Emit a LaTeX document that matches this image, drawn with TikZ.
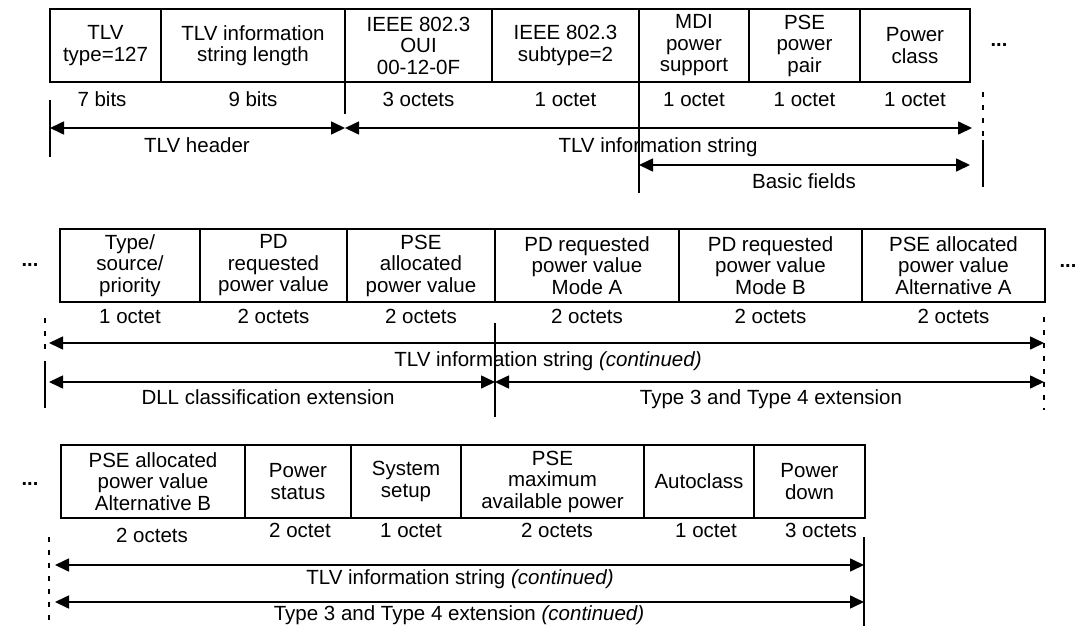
\documentclass[tikz,border=0pt]{standalone}
\usepackage{fontspec}
\setmainfont{Liberation Sans}
\usetikzlibrary{arrows.meta}
\begin{document}
\begin{tikzpicture}[x=1pt,y=-1pt,
  every node/.style={font=\fontsize{20.5}{21.5}\selectfont},
  cell/.style={draw,line width=1.6pt,rectangle,minimum height=73pt,inner sep=0pt,align=center,anchor=center},
  lbl/.style={inner sep=0pt,text height=14pt,text depth=4pt,anchor=center},
  dots/.style={inner sep=0pt,font=\fontsize{20}{21}\selectfont\bfseries},
  dimarrow/.style={line width=1.6pt,{Triangle[length=14pt,width=13pt]}-{Triangle[length=14pt,width=13pt]}},
  guide/.style={line width=1.5pt},
  dguide/.style={line width=1.5pt,dash pattern=on 5pt off 8pt}
]
\fill[white] (0,0) rectangle (1078,626);
\useasboundingbox (0,0) rectangle (1078,626);

% ---------- Row 1 ----------
\node[cell,minimum width=111pt] (c1) at (105.5,45.5) {TLV\\type=127};
\node[cell,minimum width=184pt] (c2) at (253,45.5) {TLV information\\string length};
\node[cell,minimum width=147pt] (c3) at (418.5,45.5) {IEEE 802.3\\OUI\\00-12-0F};
\node[cell,minimum width=147pt] (c4) at (565.5,45.5) {IEEE 802.3\\subtype=2};
\node[cell,minimum width=110pt] (c5) at (694,45.5) {MDI\\power\\support};
\node[cell,minimum width=111pt] (c6) at (804.5,45.5) {PSE\\power\\pair};
\node[cell,minimum width=110pt] (c7) at (915,45.5) {Power\\class};
\node[dots] (r1dots) at (999,45) {...};

\node[lbl] (s1) at (102,101) {7 bits};
\node[lbl] (s2) at (253,101) {9 bits};
\node[lbl] (s3) at (418.5,101) {3 octets};
\node[lbl] (s4) at (565.5,101) {1 octet};
\node[lbl] (s5) at (694,101) {1 octet};
\node[lbl] (s6) at (804.5,101) {1 octet};
\node[lbl] (s7) at (915,101) {1 octet};

\coordinate (v1a) at (50,100);  \coordinate (v1b) at (50,157);
\coordinate (v2a) at (345,62);  \coordinate (v2b) at (345,114);
\coordinate (v3a) at (639,82);  \coordinate (v3b) at (639,193);
\coordinate (v4a) at (983,92);  \coordinate (v4b) at (983,137);
\coordinate (v4c) at (983,140); \coordinate (v4d) at (983,187);
\draw[guide] (v1a) -- (v1b);
\draw[guide] (v2a) -- (v2b);
\draw[guide] (v3a) -- (v3b);
\draw[dguide] (v4a) -- (v4b);
\draw[guide] (v4c) -- (v4d);

\coordinate (h1a) at (50,128);  \coordinate (h1b) at (345,128);
\coordinate (h2b) at (972,128);
\coordinate (h3a) at (639,165); \coordinate (h3b) at (970,165);
\draw[dimarrow] (h1a) -- (h1b);
\draw[dimarrow] (h1b) -- (h2b);
\draw[dimarrow] (h3a) -- (h3b);
\node[lbl] (t1) at (197,147) {TLV header};
\node[lbl] (t2) at (658,147) {TLV information string};
\node[lbl] (t3) at (804,183) {Basic fields};

% ---------- Row 2 ----------
\node[dots] (r2dotsL) at (30,265) {...};
\node[cell,minimum width=140pt] (d1) at (130,265.5) {Type/\\source/\\priority};
\node[cell,minimum width=147pt] (d2) at (273.5,265.5) {PD\\requested\\power value};
\node[cell,minimum width=148pt] (d3) at (421,265.5) {PSE\\allocated\\power value};
\node[cell,minimum width=184pt] (d4) at (587,265.5) {PD requested\\power value\\Mode A};
\node[cell,minimum width=183pt] (d5) at (770.5,265.5) {PD requested\\power value\\Mode B};
\node[cell,minimum width=183pt] (d6) at (953.5,265.5) {PSE allocated\\power value\\Alternative A};
\node[dots] (r2dotsR) at (1068,266) {...};

\node[lbl] (u1) at (130,318) {1 octet};
\node[lbl] (u2) at (273.5,318) {2 octets};
\node[lbl] (u3) at (421,318) {2 octets};
\node[lbl] (u4) at (587,318) {2 octets};
\node[lbl] (u5) at (770.5,318) {2 octets};
\node[lbl] (u6) at (953.5,318) {2 octets};

\coordinate (w1a) at (45,318);  \coordinate (w1b) at (45,352);
\coordinate (w1c) at (45,361);  \coordinate (w1d) at (45,408);
\coordinate (w2a) at (495,323); \coordinate (w2b) at (495,417);
\coordinate (w3a) at (1044,317);\coordinate (w3b) at (1044,410);
\draw[dguide] (w1a) -- (w1b);
\draw[guide] (w1c) -- (w1d);
\draw[guide] (w2a) -- (w2b);
\draw[dguide] (w3a) -- (w3b);

\coordinate (g1a) at (49,343);  \coordinate (g1b) at (1044,343);
\coordinate (g2a) at (49,382);  \coordinate (g2m) at (495,382); \coordinate (g2b) at (1044,382);
\draw[dimarrow] (g1a) -- (g1b);
\draw[dimarrow] (g2a) -- (g2m);
\draw[dimarrow] (g2m) -- (g2b);
\node[lbl] (p1) at (548,361) {TLV information string \textit{(continued)}};
\node[lbl] (p2) at (268,399) {DLL classification extension};
\node[lbl] (p3) at (771,399) {Type 3 and Type 4 extension};

% ---------- Row 3 ----------
\node[dots] (r3dotsL) at (30,484) {...};
\node[cell,minimum width=184pt] (e1) at (153,481.5) {PSE allocated\\power value\\Alternative B};
\node[cell,minimum width=106pt] (e2) at (298,481.5) {Power\\status};
\node[cell,minimum width=110pt] (e3) at (406,481.5) {System\\setup};
\node[cell,minimum width=183pt] (e4) at (552.5,481.5) {PSE\\maximum\\available power};
\node[cell,minimum width=110pt] (e5) at (699,481.5) {Autoclass};
\node[cell,minimum width=111pt] (e6) at (809.5,481.5) {Power\\down};

\node[lbl] (q1) at (152,537) {2 octets};
\node[lbl] (q2) at (300,532) {2 octet};
\node[lbl] (q3) at (411,532) {1 octet};
\node[lbl] (q4) at (557,532) {2 octets};
\node[lbl] (q5) at (706,532) {1 octet};
\node[lbl] (q6) at (821,532) {3 octets};

\coordinate (x1a) at (49,537);  \coordinate (x1b) at (49,626);
\coordinate (x2a) at (864,537); \coordinate (x2b) at (864,626);
\draw[dguide] (x1a) -- (x1b);
\draw[guide] (x2a) -- (x2b);

\coordinate (k1a) at (55,565);  \coordinate (k1b) at (864,565);
\coordinate (k2a) at (55,602);  \coordinate (k2b) at (864,602);
\draw[dimarrow] (k1a) -- (k1b);
\draw[dimarrow] (k2a) -- (k2b);
\node[lbl] (m1) at (460,579) {TLV information string \textit{(continued)}};
\node[lbl] (m2) at (459,615) {Type 3 and Type 4 extension \textit{(continued)}};
\end{tikzpicture}
\end{document}
